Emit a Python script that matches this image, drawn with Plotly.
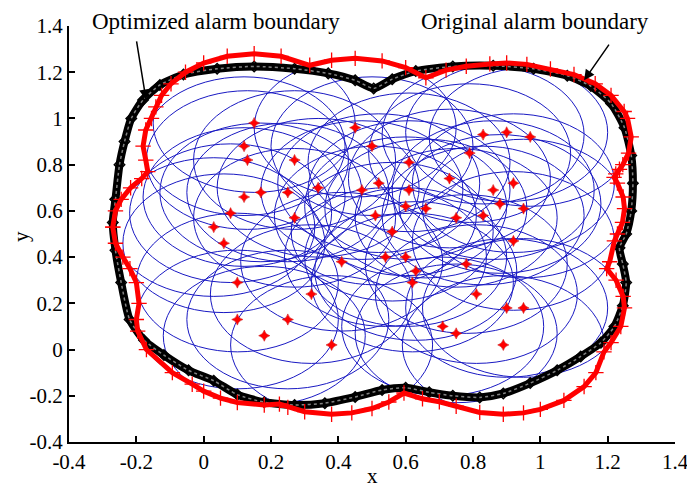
import plotly.graph_objects as go

# sensor positions (red stars), each with an alarm circle
star_x = [0.15, 0.12, 0.13, 0.27, 0.12, 0.17, 0.25, 0.34, 0.08, 0.27, 0.03, 0.06, 0.45, 0.50,
          0.83, 0.90, 0.97, 0.61, 0.79, 0.73, 0.52, 0.47, 0.61, 0.92, 0.86, 0.60, 0.66, 0.88,
          0.95, 0.51, 0.75, 0.83, 0.56, 0.92, 0.41, 0.10, 0.32, 0.10, 0.25, 0.18, 0.38, 0.54,
          0.60, 0.63, 0.78, 0.62, 0.81, 0.90, 0.95, 0.71, 0.75, 0.89]
star_y = [0.98, 0.88, 0.82, 0.82, 0.66, 0.68, 0.68, 0.70, 0.59, 0.57, 0.53, 0.46, 0.96, 0.88,
          0.93, 0.94, 0.92, 0.81, 0.85, 0.74, 0.72, 0.69, 0.69, 0.72, 0.69, 0.62, 0.61, 0.63,
          0.61, 0.58, 0.57, 0.58, 0.51, 0.47, 0.38, 0.29, 0.24, 0.13, 0.13, 0.06, 0.02, 0.40,
          0.40, 0.34, 0.37, 0.29, 0.24, 0.18, 0.18, 0.10, 0.07, 0.02]
radius = 0.3

# original alarm boundary (red +)
orig_x = [-0.27, -0.262, -0.245, -0.217, -0.184, -0.166, -0.172, -0.18, -0.172, -0.155, -0.142,
          -0.125, -0.097, -0.054, 0.0, 0.07, 0.15, 0.23, 0.315, 0.38, 0.45, 0.53, 0.60, 0.66,
          0.72, 0.78, 0.85, 0.90, 0.96, 1.03, 1.10, 1.163, 1.21, 1.249, 1.259, 1.27, 1.262,
          1.245, 1.235, 1.224, 1.219, 1.229, 1.246, 1.25, 1.244, 1.229, 1.22, 1.206, 1.197,
          1.225, 1.246, 1.25, 1.239, 1.21, 1.189, 1.165, 1.13, 1.07, 1.00, 0.95, 0.89, 0.82,
          0.75, 0.70, 0.65, 0.595, 0.55, 0.50, 0.44, 0.38, 0.30, 0.25, 0.225, 0.18, 0.10, 0.05,
          0.0, -0.034, -0.093, -0.17, -0.196, -0.20, -0.192, -0.20, -0.219, -0.24, -0.262, -0.27]
orig_y = [0.53, 0.60, 0.65, 0.70, 0.74, 0.77, 0.82, 0.88, 0.95, 1.00, 1.05,
          1.10, 1.15, 1.20, 1.24, 1.269, 1.28, 1.269, 1.23, 1.252, 1.26, 1.249, 1.22, 1.176,
          1.209, 1.226, 1.236, 1.24, 1.234, 1.214, 1.19, 1.15, 1.10, 1.03, 1.00, 0.92, 0.85,
          0.80, 0.78, 0.76, 0.745, 0.72, 0.66, 0.61, 0.55, 0.50, 0.47, 0.38, 0.35,
          0.30, 0.23, 0.18, 0.10, 0.03, -0.01, -0.10, -0.16, -0.22, -0.259, -0.274, -0.28, -0.272,
          -0.245, -0.226, -0.213, -0.188, -0.227, -0.255, -0.274, -0.28, -0.269, -0.25, -0.236, -0.24,
          -0.229, -0.21, -0.18, -0.15, -0.10, 0.0, 0.08, 0.13, 0.20, 0.29, 0.35, 0.40, 0.46, 0.53]

# optimized alarm boundary (black)
opt_x = [-0.262, -0.25, -0.235, -0.215, -0.18, -0.13, -0.06, 0.04, 0.15, 0.27, 0.37, 0.45, 0.505,
         0.56, 0.63, 0.74, 0.86, 0.98, 1.08, 1.15, 1.21, 1.25, 1.27, 1.275, 1.27, 1.255, 1.235,
         1.245, 1.255, 1.245, 1.22, 1.18, 1.12, 1.05, 0.97, 0.89, 0.82, 0.74, 0.67, 0.60, 0.53,
         0.45, 0.36, 0.27, 0.18, 0.10, 0.03, -0.045, -0.118, -0.177, -0.22, -0.245, -0.262, -0.27, -0.262]
opt_y = [0.65, 0.80, 0.90, 1.00, 1.08, 1.145, 1.19, 1.215, 1.225, 1.215, 1.195, 1.165, 1.13,
         1.17, 1.205, 1.225, 1.228, 1.215, 1.185, 1.14, 1.065, 0.96, 0.84, 0.72, 0.60, 0.50, 0.44,
         0.37, 0.29, 0.19, 0.10, 0.03, -0.03, -0.09, -0.145, -0.19, -0.207, -0.20, -0.185, -0.165, -0.175,
         -0.205, -0.232, -0.24, -0.228, -0.195, -0.135, -0.09, -0.024, 0.04, 0.13, 0.29, 0.43, 0.55, 0.65]

ticks = [-0.4, -0.2, 0, 0.2, 0.4, 0.6, 0.8, 1, 1.2, 1.4]
tick_text = ["-0.4", "-0.2", "0", "0.2", "0.4", "0.6", "0.8", "1", "1.2", "1.4"]

serif = "Liberation Serif, Times New Roman, serif"

fig = go.Figure()

for cx, cy in zip(star_x, star_y):
    fig.add_shape(type="circle", xref="x", yref="y",
                  x0=cx - radius, y0=cy - radius, x1=cx + radius, y1=cy + radius,
                  line=dict(color="rgb(25,25,195)", width=1), layer="below")

fig.add_trace(go.Scatter(x=opt_x, y=opt_y, mode="lines+markers",
                         line=dict(color="black", width=8, shape="spline", smoothing=0.6),
                         marker=dict(symbol="diamond-open", size=8, color="black",
                                     line=dict(width=1.5, color="black"))))
fig.add_trace(go.Scatter(x=opt_x, y=opt_y, mode="lines",
                         line=dict(color="rgb(130,130,130)", width=1.5, dash="dot",
                                   shape="spline", smoothing=0.6)))
fig.add_trace(go.Scatter(x=orig_x, y=orig_y, mode="lines+markers",
                         line=dict(color="red", width=5),
                         marker=dict(symbol="cross-thin", size=11, color="red",
                                     line=dict(width=1.3, color="red"))))
fig.add_trace(go.Scatter(x=star_x, y=star_y, mode="markers",
                         marker=dict(symbol="star-diamond", size=8, color="red",
                                     line=dict(width=0.5, color="rgb(200,0,0)"))))

axis_style = dict(range=[-0.4, 1.4], tickvals=ticks, ticktext=tick_text,
                  showline=True, linecolor="black", linewidth=2,
                  ticks="inside", ticklen=6, tickwidth=1.5, tickcolor="black",
                  showgrid=False, zeroline=False, automargin=False,
                  tickfont=dict(family=serif, size=21, color="black"))

# page body adds an 8px margin, so the figure is a little smaller than the window;
# r leaves room for the last x tick label inside the window
fig.update_layout(
    width=687, height=480,
    margin=dict(l=61, r=20, t=18, b=46),
    plot_bgcolor="white", paper_bgcolor="white",
    showlegend=False,
    xaxis=dict(axis_style),
    yaxis=dict(axis_style),
    font=dict(family=serif, color="black"),
)

# axis titles
fig.add_annotation(x=0.5, y=-0.082, xref="paper", yref="paper", text="x", showarrow=False,
                   xanchor="center", yanchor="middle", font=dict(family=serif, size=21))
fig.add_annotation(x=-0.079, y=0.493, xref="paper", yref="paper", text="y", showarrow=False,
                   xanchor="center", yanchor="middle", textangle=-90,
                   font=dict(family=serif, size=21))

# boundary labels with arrows
fig.add_annotation(x=0.243, y=1.012, xref="paper", yref="paper", text="Optimized alarm boundary",
                   showarrow=False, xanchor="center", yanchor="middle",
                   font=dict(family=serif, size=23))
fig.add_annotation(x=0.769, y=1.012, xref="paper", yref="paper", text="Original alarm boundary",
                   showarrow=False, xanchor="center", yanchor="middle",
                   font=dict(family=serif, size=23))
fig.add_annotation(x=-0.171, y=1.08, ax=-0.20, ay=1.34, xref="x", yref="y",
                   axref="x", ayref="y", text="", showarrow=True,
                   arrowhead=2, arrowsize=1.4, arrowwidth=1.5, arrowcolor="black")
fig.add_annotation(x=1.13, y=1.165, ax=1.207, ay=1.326, xref="x", yref="y",
                   axref="x", ayref="y", text="", showarrow=True,
                   arrowhead=2, arrowsize=1.4, arrowwidth=1.5, arrowcolor="black")

fig.write_html("out.html")
